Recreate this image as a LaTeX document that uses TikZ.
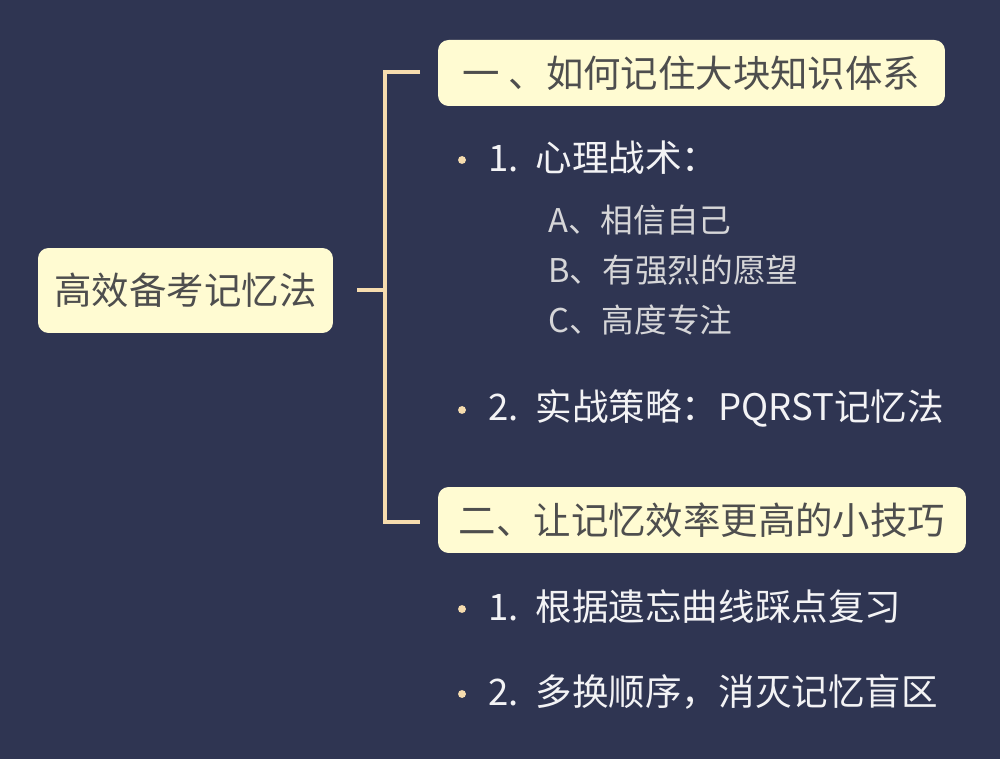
\documentclass[tikz,border=0pt]{standalone}
\usepackage{fontspec}
\newfontfamily\cjk{Noto Sans CJK SC}
\definecolor{navy}{HTML}{2F3552}
\definecolor{cream}{HTML}{FFFBD2}
\definecolor{ink}{HTML}{4E4E4E}
\definecolor{peach}{HTML}{F6DCAE}
\definecolor{soft}{HTML}{D6D6D8}
\tikzset{
  topic/.style={fill=cream, rounded corners=6pt, text=ink, font=\cjk\fontsize{21.3}{24}\selectfont, inner sep=0pt},
  item/.style={anchor=west, text=white!94!navy, font=\cjk\fontsize{20.8}{24}\selectfont, inner sep=0pt},
  subitem/.style={anchor=west, text=soft, font=\cjk\fontsize{18.6}{22}\selectfont, inner sep=0pt},
  dot/.style={circle, fill=peach, minimum size=4.5pt, inner sep=0pt},
  branch/.style={draw=peach, line width=2.2pt}
}
\begin{document}
\begin{tikzpicture}[x=0.02cm,y=-0.02cm]
  \fill[navy] (0,0) rectangle (1000,759);
  % topics
  \node[topic, minimum width=5.9cm, minimum height=1.7cm] (root) at (185.5,290.5) {高效备考记忆法};
  \node[topic, minimum width=10.14cm, minimum height=1.32cm] (t1) at (691.5,73) {一 、如何记住大块知识体系};
  \node[topic, minimum width=10.56cm, minimum height=1.32cm] (t2) at (702,520) {二、让记忆效率更高的小技巧};
  % bracket
  \coordinate (stub) at (357,290);
  \coordinate (fork) at (385,290);
  \coordinate (c1) at (420,72);
  \coordinate (c2) at (420,522);
  \draw[branch] (stub) -- (fork);
  \draw[branch] (c1) -| (fork) |- (c2);
  % first branch
  \node[dot] (d1) at (462,160) {};
  \node[item] (i1) at (488,158) {1.\, 心理战术：};
  \node[subitem] (a) at (548,220) {A、相信自己};
  \node[subitem] (b) at (548,270) {B、有强烈的愿望};
  \node[subitem] (c) at (548,320) {C、高度专注};
  \node[dot] (d2) at (462,410) {};
  \node[item] (i2) at (488,408) {2.\, 实战策略：PQRST记忆法};
  % second branch
  \node[dot] (d3) at (462,609) {};
  \node[item] (i3) at (488,607) {1.\, 根据遗忘曲线踩点复习};
  \node[dot] (d4) at (462,694) {};
  \node[item] (i4) at (488,692) {2.\, 多换顺序，消灭记忆盲区};
\end{tikzpicture}
\end{document}
